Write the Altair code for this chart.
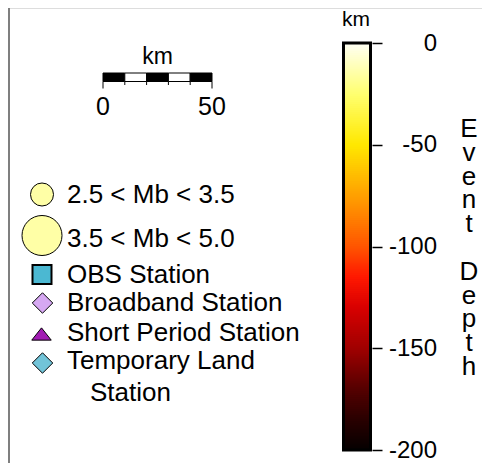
import altair as alt
import numpy as np
import pandas as pd

W, H = 474, 455
FONT = "Liberation Sans"

# ---------------- data ----------------
# scale bar (km)
scalebar_seg_start = [0, 10, 20, 30, 40]
scalebar_seg_fill = ["black", "white", "black", "white", "black"]
scalebar_ticks = [0, 10, 20, 30, 40, 50]
scalebar_labels = ["0", "50"]
scalebar_label_km = [0, 50]
scalebar_unit = "km"

# symbol legend
legend_labels = ["2.5 < Mb < 3.5", "3.5 < Mb < 5.0", "OBS Station",
                 "Broadband Station", "Short Period Station", "Temporary Land"]
legend_shapes = ["circle", "circle", "square", "diamond",
                 "M-1,0.63L1,0.63L0,-0.63Z", "diamond"]
legend_fills = ["#FFFFA6", "#FFFFA6", "#4BB8D2", "#D6A8F2", "#A21CB4", "#72C4D8"]
legend_extra_line = "Station"

# colour bar (event depth, km)
depth_ticks = [0, -50, -100, -150, -200]
depth_stops = [-200, -185, -170, -150, -130, -115, -100, -75, -50, -25, 0]
depth_colors = ["#050000", "#2A0000", "#550000", "#A00000", "#D80000", "#FF1800",
                "#FF5500", "#FFA000", "#FFE800", "#FFFF70", "#FFFFF5"]
depth_title_words = ["Event", "Depth"]
depth_unit = "km"

# ---------------- layout (pixels in the chart) ----------------
SB_RANGE = [95, 204]
SB_TOP, SB_BOT = 65, 73.5
legend_sym_x = [34, 34, 34, 34.5, 33.5, 34.5]
legend_sym_y = [186.5, 227.5, 266.5, 295, 326, 355]
legend_sym_size = [529, 1600, 361, 420, 380, 420]
legend_sym_sw = [1, 1, 2, 1, 1, 1]
legend_text_y = [194.5, 239, 274.5, 302.5, 332.5, 360.5]
legend_text_x = 59
extra_x, extra_y = 82, 392.5
CB_RANGE = [442, 35]
CB_X0, CB_X1 = 336, 362
TITLE_LH = 23.8
TITLE_Y0 = 129

pos = alt.Scale(domain=[0, W], range=[0, W])
posy = alt.Scale(domain=[0, H], range=[0, H])

# frame edge
frame = alt.Chart(pd.DataFrame({"a": [0]})).mark_rule(color="#7F7F7F", strokeWidth=2).encode(
    x=alt.value(1), y=alt.value(0), y2=alt.value(H))

# scale bar
sb_x = alt.Scale(domain=[0, 50], range=SB_RANGE)
seg = pd.DataFrame({"s": scalebar_seg_start, "f": scalebar_seg_fill})
seg["e"] = seg["s"] + 10
sb_rect = alt.Chart(seg).mark_rect(stroke="black", strokeWidth=1).encode(
    x=alt.X("s:Q", scale=sb_x, axis=None), x2="e:Q",
    y=alt.value(SB_TOP), y2=alt.value(SB_BOT),
    fill=alt.Fill("f:N", scale=None))
tk = pd.DataFrame({"k": scalebar_ticks})
tk["end"] = tk["k"].isin([0, 50])
sb_ticks_long = alt.Chart(tk[tk["end"]]).mark_rule(color="black", strokeWidth=1).encode(
    x=alt.X("k:Q", scale=sb_x, axis=None), y=alt.value(SB_BOT), y2=alt.value(SB_BOT + 7))
sb_ticks_short = alt.Chart(tk[~tk["end"]]).mark_rule(color="black", strokeWidth=1).encode(
    x=alt.X("k:Q", scale=sb_x, axis=None), y=alt.value(SB_BOT), y2=alt.value(SB_BOT + 3.5))
sb_lab = alt.Chart(pd.DataFrame({"k": scalebar_label_km, "t": scalebar_labels})).mark_text(
    font=FONT, fontSize=25, baseline="alphabetic", align="center").encode(
    x=alt.X("k:Q", scale=sb_x, axis=None), y=alt.value(107), text="t:N")
sb_unit = alt.Chart(pd.DataFrame({"k": [25], "t": [scalebar_unit]})).mark_text(
    font=FONT, fontSize=23, baseline="alphabetic", align="center").encode(
    x=alt.X("k:Q", scale=sb_x, axis=None), y=alt.value(56), text="t:N")

# symbol legend
lg = pd.DataFrame({"label": legend_labels, "shape": legend_shapes, "fill": legend_fills,
                   "sx": legend_sym_x, "sy": legend_sym_y, "size": legend_sym_size,
                   "sw": legend_sym_sw, "ty": legend_text_y})
lg_sym = alt.Chart(lg).mark_point(filled=True, stroke="black", opacity=1).encode(
    x=alt.X("sx:Q", scale=pos, axis=None), y=alt.Y("sy:Q", scale=posy, axis=None),
    shape=alt.Shape("shape:N", scale=None), fill=alt.Fill("fill:N", scale=None),
    size=alt.Size("size:Q", scale=None), strokeWidth=alt.StrokeWidth("sw:Q", scale=None))
lg_txt = alt.Chart(lg).mark_text(font=FONT, fontSize=26, align="left", baseline="alphabetic").encode(
    x=alt.value(legend_text_x), y=alt.Y("ty:Q", scale=posy, axis=None), text="label:N")
lg_extra = alt.Chart(pd.DataFrame({"t": [legend_extra_line]})).mark_text(
    font=FONT, fontSize=26, align="left", baseline="alphabetic").encode(
    x=alt.value(extra_x), y=alt.value(extra_y), text="t:N")

# colour bar
lo = np.arange(-200, 0, 1.0)
cb = pd.DataFrame({"lo": lo, "hi": np.minimum(lo + 1.6, 0), "mid": lo + 0.5})
cb_y = alt.Scale(domain=[-200, 0], range=CB_RANGE, nice=False, zero=False)
cb_rect = alt.Chart(cb).mark_rect(strokeWidth=0).encode(
    x=alt.value(CB_X0), x2=alt.value(CB_X1),
    y=alt.Y("lo:Q", scale=cb_y,
            axis=alt.Axis(orient="right", offset=364 - W, values=depth_ticks, tickSize=10,
                          tickWidth=1.5, tickColor="black", domain=False, grid=False,
                          labelFont=FONT, labelFontSize=24, labelColor="black",
                          labelAlign="right", labelBaseline="middle", labelPadding=54.5,
                          labelFlush=False, labelOverlap=False,
                          labelExpr="datum.value + ''", title=None)),
    y2="hi:Q",
    color=alt.Color("mid:Q", scale=alt.Scale(domain=depth_stops, range=depth_colors,
                                             interpolate="rgb"), legend=None))
cb_border = alt.Chart(pd.DataFrame({"a": [-200], "b": [0]})).mark_rect(
    fill=None, stroke="black", strokeWidth=3).encode(
    x=alt.value(CB_X0 - 0.5), x2=alt.value(CB_X1 + 0.5),
    y=alt.Y("a:Q", scale=cb_y, axis=None), y2="b:Q")
cb_unit = alt.Chart(pd.DataFrame({"t": [depth_unit]})).mark_text(
    font=FONT, fontSize=21, align="center", baseline="alphabetic").encode(
    x=alt.value(348), y=alt.value(18), text="t:N")
title_layers = []
line_no = 0
for word in depth_title_words:
    title_layers.append(
        alt.Chart(pd.DataFrame({"a": [0]})).mark_text(
            font=FONT, fontSize=26, align="center", baseline="alphabetic",
            lineHeight=TITLE_LH).encode(
            x=alt.value(461), y=alt.value(TITLE_Y0 + line_no * TITLE_LH),
            text=alt.value(list(word))))
    line_no += len(word) + 1

chart = alt.layer(
    frame, sb_rect, sb_ticks_long, sb_ticks_short, sb_lab, sb_unit,
    lg_sym, lg_txt, lg_extra, cb_rect, cb_border, cb_unit, *title_layers
).resolve_scale(x="independent", y="independent", color="independent").properties(
    width=W, height=H, padding=0, autosize=alt.AutoSizeParams(type="none")
).configure_view(strokeWidth=0).configure(background="white")

chart.save("out.html", embed_options={"renderer": "svg", "actions": False})
